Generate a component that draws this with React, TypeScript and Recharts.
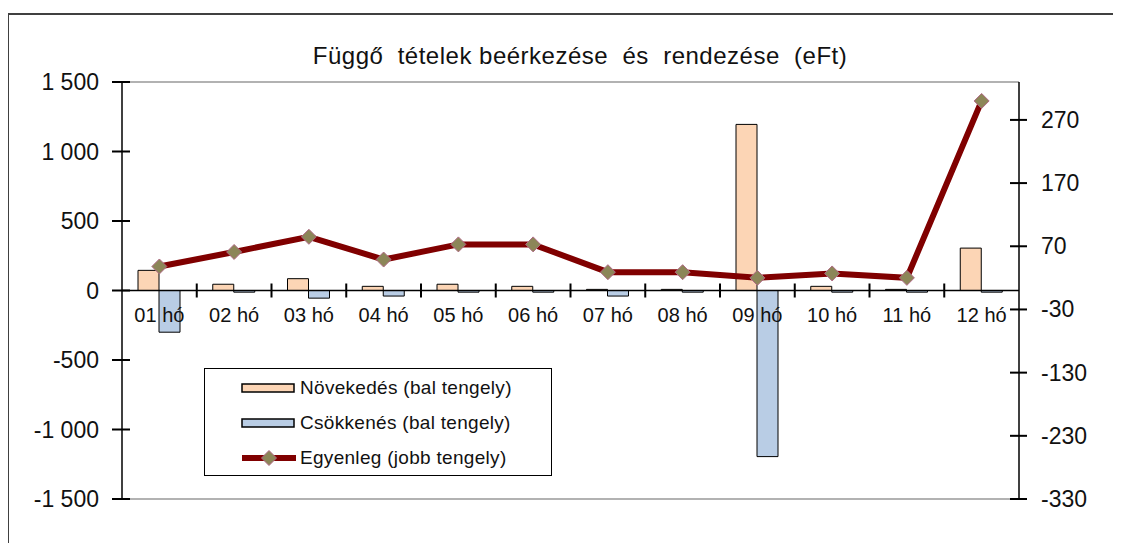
import React from 'react';
import { ComposedChart, Bar, Line, XAxis, YAxis, ReferenceLine, Customized } from 'recharts';

const months = ['01 hó', '02 hó', '03 hó', '04 hó', '05 hó', '06 hó', '07 hó', '08 hó', '09 hó', '10 hó', '11 hó', '12 hó'];
const novekedes = [145, 45, 85, 30, 45, 30, 8, 8, 1195, 30, 8, 305];
const csokkenes = [-300, -12, -55, -40, -12, -12, -40, -12, -1195, -12, -12, -12];
const egyenleg = [38, 61, 85, 49, 73, 73, 29, 29, 20, 27, 20, 300];

const leftTicks = [-1500, -1000, -500, 0, 500, 1000, 1500];
const rightTicks = [-330, -230, -130, -30, 70, 170, 270];
const leftDomain = [-1500, 1500];
const rightDomain = [-330, 330];

const data = months.map((m, i) => ({
  month: m,
  nov: novekedes[i],
  csok: csokkenes[i],
  egy: egyenleg[i],
}));

const W = 1113;
const H = 535;
const M = { top: 74, right: 22, bottom: 43, left: 0 };
const LEFT_W = 114;
const RIGHT_W = 80;
const PLOT_L = M.left + LEFT_W;
const PLOT_R = W - M.right - RIGHT_W;
const PLOT_T = M.top;
const PLOT_B = H - M.bottom - 1;
const ZERO_Y = PLOT_T + (PLOT_B - PLOT_T) / 2;
const BAND = (PLOT_R - PLOT_L) / months.length;

const FONT = '"Liberation Sans", Arial, sans-serif';

const fmt = (v: number) => {
  const s = String(Math.abs(v));
  const g = s.length > 3 ? s.slice(0, s.length - 3) + '\u00a0' + s.slice(-3) : s;
  return (v < 0 ? '-' : '') + g;
};

const toY = (v: number, d: number[]) => PLOT_T + ((d[1] - v) / (d[1] - d[0])) * (PLOT_B - PLOT_T);

const XTick = (props: any) => {
  const { x, payload } = props;
  return (
    <text x={x} y={ZERO_Y + 31} textAnchor="middle" fontSize={20} fontFamily={FONT} fill="#111">
      {payload.value}
    </text>
  );
};

const LeftTick = (props: any) => {
  const { y, payload } = props;
  return (
    <text x={PLOT_L - 23} y={y + 8} textAnchor="end" fontSize={23} fontFamily={FONT} fill="#111">
      {fmt(payload.value)}
    </text>
  );
};

const RightTick = (props: any) => {
  const { y, payload } = props;
  return (
    <text x={PLOT_R + 22} y={y + 8} textAnchor="start" fontSize={23} fontFamily={FONT} fill="#111">
      {payload.value}
    </text>
  );
};

const Diamond = (props: any) => {
  const { cx, cy } = props;
  if (cx == null || cy == null) return null;
  const r = 7.5;
  return (
    <path
      d={`M${cx},${cy - r}L${cx + r},${cy}L${cx},${cy + r}L${cx - r},${cy}Z`}
      fill="#8c8658"
      stroke="#b06a85"
      strokeWidth={1}
    />
  );
};

const Title = () => (
  <text x={572} y={56} textAnchor="middle" fontSize={24} fontFamily={FONT} fill="#111" letterSpacing={0.5} style={{ whiteSpace: 'pre' }}>
    {'Függő  tételek beérkezése  és  rendezése  (eFt)'}
  </text>
);

const legendItems = [
  { label: 'Növekedés (bal tengely)', kind: 'bar', fill: '#fcd5b5' },
  { label: 'Csökkenés (bal tengely)', kind: 'bar', fill: '#b9cde5' },
  { label: 'Egyenleg (jobb tengely)', kind: 'line', fill: '#800000' },
];

export default function App() {
  return (
    <div style={{ position: 'relative', width: W, height: H, overflow: 'hidden', background: '#fff' }}>
      <div
        style={{
          position: 'absolute',
          left: -1,
          top: 5,
          width: 1300,
          height: 800,
          borderLeft: '2px solid #404040',
          borderTop: '2px solid #404040',
        }}
      />
      <ComposedChart width={W} height={H} data={data} margin={M} barGap={0}>
        <Customized component={Title} />
        <XAxis
          dataKey="month"
          height={1}
          axisLine={false}
          tickLine={false}
          interval={0}
          tick={<XTick />}
        />
        <YAxis
          yAxisId="left"
          width={LEFT_W}
          domain={leftDomain}
          ticks={leftTicks}
          tickLine={false}
          axisLine={{ stroke: '#000', strokeWidth: 1.5 }}
          tick={<LeftTick />}
          allowDataOverflow
        />
        <YAxis
          yAxisId="right"
          orientation="right"
          width={RIGHT_W}
          domain={rightDomain}
          ticks={rightTicks}
          tickLine={false}
          axisLine={{ stroke: '#000', strokeWidth: 1.5 }}
          tick={<RightTick />}
          allowDataOverflow
        />
        <ReferenceLine yAxisId="left" y={1500} stroke="#999" strokeWidth={1.5} />
        <ReferenceLine yAxisId="left" y={-1500} stroke="#999" strokeWidth={1.5} />
        <Bar yAxisId="left" dataKey="nov" barSize={21} fill="#fcd5b5" stroke="#000" strokeWidth={1} isAnimationActive={false} />
        <Bar yAxisId="left" dataKey="csok" barSize={21} fill="#b9cde5" stroke="#000" strokeWidth={1} isAnimationActive={false} />
        <ReferenceLine yAxisId="left" y={0} stroke="#000" strokeWidth={1.5} />
        <Line
          yAxisId="right"
          dataKey="egy"
          stroke="#800000"
          strokeWidth={6}
          dot={<Diamond />}
          activeDot={false}
          isAnimationActive={false}
        />
      </ComposedChart>
      <svg
        width={W}
        height={H}
        style={{ position: 'absolute', left: 0, top: 0, pointerEvents: 'none', zIndex: 2 }}
      >
        {leftTicks.map((t) => (
          <rect key={'l' + t} x={PLOT_L - 10} y={toY(t, leftDomain) - 1} width={18} height={2} fill="#000" />
        ))}
        {rightTicks.map((t) => (
          <rect key={'r' + t} x={PLOT_R - 9} y={toY(t, rightDomain) - 1} width={17} height={2} fill="#000" />
        ))}
        {months.slice(1).map((m, i) => (
          <rect key={'x' + m} x={PLOT_L + (i + 1) * BAND - 1} y={ZERO_Y - 7} width={2} height={14} fill="#000" />
        ))}
      </svg>
      <div
        style={{
          position: 'absolute',
          left: 196,
          top: 360,
          width: 346,
          height: 106,
          border: '1.5px solid #000',
          background: '#fff',
          fontFamily: FONT,
          fontSize: 19,
          color: '#111',
          zIndex: 3,
        }}
      >
        {legendItems.map((it, i) => (
          <div key={it.label} style={{ position: 'absolute', left: 0, top: 19 + i * 35 - 12, height: 24, display: 'flex', alignItems: 'center' }}>
            <svg width={60} height={24} style={{ marginLeft: 35 }}>
              {it.kind === 'bar' ? (
                <rect x={2} y={8} width={52} height={8} fill={it.fill} stroke="#000" strokeWidth={1.5} />
              ) : (
                <g>
                  <line x1={2} x2={56} y1={12} y2={12} stroke={it.fill} strokeWidth={6} />
                  <Diamond cx={29} cy={12} />
                </g>
              )}
            </svg>
            <span style={{ marginLeft: 0, letterSpacing: 0.3, whiteSpace: 'nowrap' }}>{it.label}</span>
          </div>
        ))}
      </div>
    </div>
  );
}
